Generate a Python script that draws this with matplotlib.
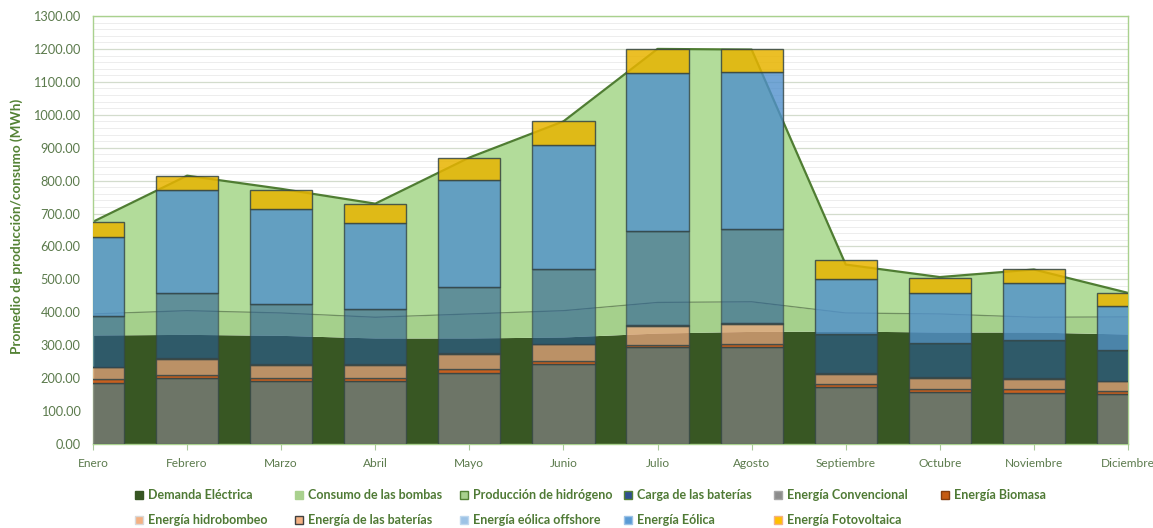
import numpy as np
import matplotlib
matplotlib.use("Agg")
import matplotlib.pyplot as plt
from matplotlib.patches import Rectangle

plt.rcParams['font.family'] = ['Lato', 'DejaVu Sans']

meses = ["Enero", "Febrero", "Marzo", "Abril", "Mayo", "Junio", "Julio",
         "Agosto", "Septiembre", "Octubre", "Noviembre", "Diciembre"]

# Consumo (áreas apiladas, MWh)
demanda_electrica = [331, 333, 330, 322, 322, 325, 337, 342, 343, 340, 340, 334]
consumo_bombas = [64, 72, 68, 63, 73, 80, 93, 90, 55, 55, 45, 52]
produccion_hidrogeno = [280, 410, 377, 345, 475, 575, 770, 766, 147, 112, 145, 73]

# Producción (barras apiladas, MWh)
energia_convencional = [185, 200, 190, 190, 215, 243, 295, 295, 172, 158, 155, 152]
energia_biomasa = [12, 10, 10, 10, 12, 10, 7, 10, 10, 10, 12, 9]
energia_hidrobombeo = [36, 48, 40, 40, 46, 50, 56, 60, 31, 33, 31, 29]
energia_baterias = [2, 2, 2, 2, 2, 2, 2, 2, 2, 2, 2, 2]
carga_baterias = [155, 198, 183, 168, 203, 228, 288, 285, 120, 104, 116, 94]
energia_eolica_offshore = [0, 0, 0, 0, 0, 0, 0, 0, 0, 0, 0, 0]
energia_eolica = [240, 312, 290, 260, 325, 374, 480, 478, 165, 152, 173, 133]
energia_fotovoltaica = [45, 45, 55, 60, 67, 73, 72, 70, 58, 45, 43, 40]

W, H = 1153, 528
fig = plt.figure(figsize=(W / 100, H / 100), dpi=100)
ax = fig.add_axes([93 / W, 1 - 444 / H, (1128 - 93) / W, (444 - 16) / H])

x = np.arange(len(meses))

# --- áreas de consumo ---
base = np.zeros(len(meses))
area_series = [
    (demanda_electrica, '#385723', None, 0),
    (consumo_bombas, '#a5d08c', '#6f8f60', 0.9),
    (produccion_hidrogeno, '#b2dc9a', '#4f7d32', 1.6),
]
for vals, col, ecol, lw in area_series:
    top = base + np.array(vals, dtype=float)
    ax.fill_between(x, base, top, color=col, lw=0, zorder=1)
    if ecol is not None:
        ax.plot(x, top, color=ecol, lw=lw, zorder=1.5)
    base = top

# --- barras de producción ---
bar_series = [
    (energia_convencional, '#80807f', 0.75),
    (energia_biomasa, '#e2621e', 0.85),
    (energia_hidrobombeo, '#e8a57e', 0.75),
    (energia_baterias, '#b07a50', 0.8),
    (carga_baterias, '#2a5d98', 0.6),
    (energia_eolica_offshore, '#9dc3e6', 0.75),
    (energia_eolica, '#5090cc', 0.8),
    (energia_fotovoltaica, '#e8b400', 0.85),
]
bottom = np.zeros(len(meses))
for vals, col, a in bar_series:
    v = np.array(vals, dtype=float)
    ax.bar(x, v, width=0.66, bottom=bottom, color=col, alpha=a,
           edgecolor=(0.2, 0.27, 0.27, 0.35), linewidth=1.0, zorder=3)
    bottom = bottom + v

# --- ejes ---
ax.set_xlim(0, 11)
ax.set_ylim(0, 1300)
ax.set_yticks(np.arange(0, 1301, 100))
ax.set_yticks(np.arange(0, 1301, 20), minor=True)
ax.set_yticklabels([f"{v:.2f}" for v in np.arange(0, 1301, 100)])
ax.set_xticks(x)
ax.set_xticklabels(meses)
ax.tick_params(axis='y', which='both', length=0, labelsize=9.2,
               labelcolor='#5b7a4c', pad=9)
ax.tick_params(axis='x', length=4, color='#a9c99a', labelsize=8.6,
               labelcolor='#5b7a4c', pad=6)
ax.grid(axis='y', which='major', color='#d3dccd', lw=0.9)
ax.grid(axis='y', which='minor', color='#ededed', lw=0.7)
ax.set_axisbelow(True)
for s in ax.spines.values():
    s.set_color('#a9d18e')
    s.set_linewidth(1.0)

fig.text(17 / W, 1 - 226 / H, "Promedio de producción/consumo (MWh)",
         rotation=90, ha='center', va='center', fontsize=9.7,
         fontweight='bold', color='#548235')

# --- leyenda ---
leyenda = [
    ("Demanda Eléctrica", '#375623', '#375623', 139, 495),
    ("Consumo de las bombas", '#a9d18e', '#a9d18e', 299, 495),
    ("Producción de hidrógeno", '#a9d18e', '#548235', 464, 495),
    ("Carga de las baterías", '#2f4f8f', '#548235', 628, 495),
    ("Energía Convencional", '#8c8c8c', '#a6a6a6', 778, 495),
    ("Energía Biomasa", '#c55a11', '#843c0c', 945, 495),
    ("Energía hidrobombeo", '#f4b183', '#d9d9d9', 139, 520),
    ("Energía de las baterías", '#f4b183', '#404040', 299, 520),
    ("Energía eólica offshore", '#9dc3e6', '#bdd7ee', 464, 520),
    ("Energía Eólica", '#5b9bd5', '#9dc3e6', 628, 520),
    ("Energía Fotovoltaica", '#ffc000', '#f4b183', 778, 520),
]
for label, fc, ec, px, py in leyenda:
    fig.patches.append(Rectangle(((px - 4) / W, 1 - (py + 4) / H), 8 / W, 8 / H,
                                 transform=fig.transFigure, facecolor=fc,
                                 edgecolor=ec, linewidth=1.0))
    fig.text((px + 9) / W, 1 - py / H, label, ha='left', va='center',
             fontsize=9.0, fontweight='bold', color='#4f7a35')

fig.savefig("out.png", dpi=100)
